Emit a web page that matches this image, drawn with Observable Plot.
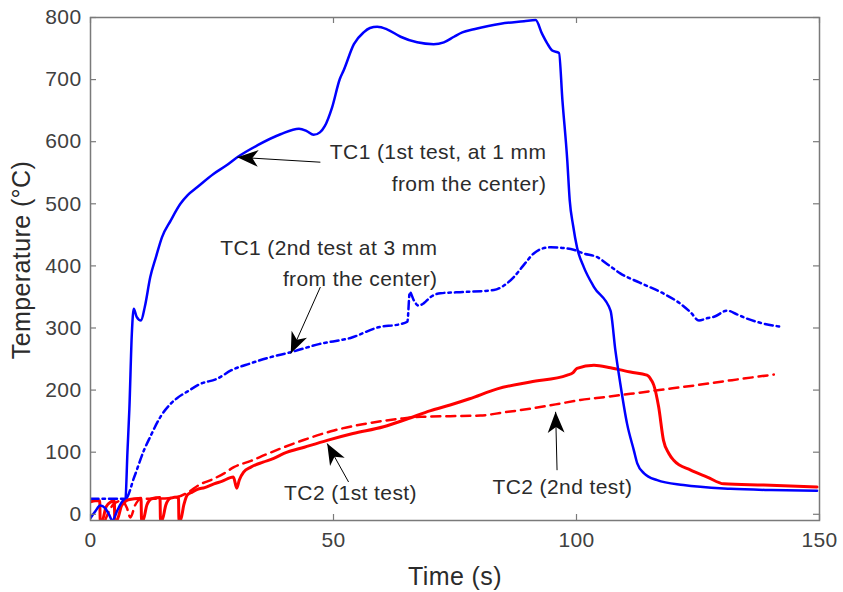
<!DOCTYPE html>
<html>
<head>
<meta charset="utf-8">
<script src="https://cdn.jsdelivr.net/npm/d3@7"></script>
<script src="https://cdn.jsdelivr.net/npm/@observablehq/plot@0.6"></script>
<style>
  html, body { margin: 0; padding: 0; background: #fff; }
  svg text { letter-spacing: 0.4px; }
</style>
</head>
<body>
<div id="chart"></div>
<script>
// ---- tick labels ----
const xTicks = [0, 50, 100, 150];
const yTicks = [0, 100, 200, 300, 400, 500, 600, 700, 800];

// ---- TC1, 1st test (at 1 mm from the center) ----
const tc1aTime = [0, 1, 2, 3, 3.8, 4.5, 5.5, 6.3, 6.9, 7.2, 7.6, 8.0, 8.5, 8.9, 9.5, 10.4, 11.2, 12.3, 13.5, 14.7, 16.5, 18.5, 20, 22, 25.3, 28, 30.2, 34.3, 39.1, 42.9, 44.5, 45.9, 47.2, 48.2, 49.7, 51.3, 52.1, 54.2, 56.2, 57.5, 59, 61, 63.8, 67.2, 70.6, 72.7, 74.8, 76.5, 78.9, 84.4, 89.2, 91.6, 92.9, 94, 95, 96.4, 97.1, 98.1, 98.6, 99.3, 100.1, 101.5, 103.6, 107, 108, 109, 110.4, 111.8, 112.5, 113.9, 116.6, 122, 131.7, 140, 149.5];
const tc1aTemp = [-6, 5, 14, 10, 0, -10, 6, 18, 24, 26, 100, 170, 290, 331, 318, 312, 335, 382, 415, 446, 473, 500, 514, 527, 548, 562, 575, 594, 612, 621, 617, 611, 615, 625, 655, 701, 715, 757, 776, 783, 785, 781, 769, 760, 757, 760, 769, 776, 781, 790, 794, 796, 774, 758, 747, 743, 667, 570, 506, 465, 430, 398, 366, 328, 264, 211, 146, 103, 82, 66, 55, 47, 41, 39, 38];

// ---- TC1, 2nd test (at 3 mm from the center) ----
const tc1bTime = [0, 3, 6, 7.2, 9, 11, 12.3, 14.4, 16.5, 17.8, 20, 22.6, 26, 29, 32.9, 37, 41.2, 47, 53.5, 59.7, 63, 65.2, 65.7, 66.5, 67.5, 68.6, 70, 72, 77, 83, 85, 87.1, 89, 91.2, 93, 94.7, 97, 99.4, 101.5, 104.3, 106.5, 109, 113, 118, 121.4, 123.5, 125.2, 127, 128.3, 131, 133, 135.1, 138, 142];
const tc1bTemp = [25, 25, 25, 25, 60, 103, 125, 157, 178, 187, 198, 210, 218, 232, 243, 253, 261, 274, 284, 302, 305, 310, 358, 345, 336, 340, 350, 356, 358, 361, 368, 382, 400, 420, 428, 430, 429, 426, 420, 414, 402, 388, 373, 355, 339, 325, 312, 316, 318, 328, 322, 315, 308, 302];

// ---- TC2, 1st test ----
const tc2aTime = [0, 1, 1.9, 2.0, 2.4, 3.2, 4.2, 4.9, 5.0, 5.4, 6.4, 7.6, 9, 10.4, 10.5, 10.8, 11.6, 12.6, 14.3, 14.4, 14.7, 15.5, 16.5, 18.1, 18.2, 18.5, 19.2, 19.9, 21, 22, 23.5, 25.4, 27, 29.4, 30.1, 30.6, 31.5, 33, 35.5, 37.7, 39.8, 44, 48.7, 54, 60.3, 65, 70, 74, 78, 83.7, 90.5, 98.1, 99.3, 100.1, 103.6, 107, 111.1, 114.5, 115.4, 115.9, 116.9, 117.9, 119, 120, 123.5, 126.9, 130.3, 138.5, 149.5];
const tc2aTemp = [20, 22, 22, -10, -10, 12, 20, 22, -10, -10, 14, 23, 25, 26, -10, -10, 15, 25, 27, -10, -10, 15, 26, 28, -10, -10, 15, 31, 36, 40, 43, 49, 53, 60, 42, 55, 68, 76, 84, 90, 98, 108, 119, 130, 141, 153, 167, 176, 186, 202, 213, 224, 228, 235, 240, 236, 229, 224, 216, 208, 173, 119, 98, 87, 71, 60, 49, 47, 44];

// ---- TC2, 2nd test ----
const tc2bTime = [3, 4, 5, 6.5, 7.5, 8.2, 9.2, 10.5, 13, 16, 18, 20, 22.5, 25, 27.5, 29.5, 33, 36, 39.8, 44, 50.1, 56, 63.8, 68, 74, 80.2, 85, 90.5, 95.7, 100.8, 106, 111.1, 118, 124.8, 132, 140.6];
const tc2bTemp = [-10, 8, 18, 22, 10, -5, 15, 25, 25, 26, 28, 35, 48, 56, 66, 76, 86, 96, 108, 120, 135, 145, 154, 157, 158, 159, 164, 170, 177, 184, 189, 194, 201, 208, 216, 225];

// ---- annotations (data coordinates) ----
const annoRightText = ["TC1 (1st test, at 1 mm\nfrom the center)", "TC1 (2nd test at 3 mm\nfrom the center)"];
const annoRightX = [93.8, 71.4];
const annoRightY = [563, 409];
const annoMidText = ["TC2 (1st test)", "TC2 (2nd test)"];
const annoMidX = [53.5, 97.1];
const annoMidY = [34, 43];
const arrowTailX = [47.3, 47.3, 53.1, 96.0];
const arrowTailY = [567, 366, 52, 71];
const arrowTipX = [30.2, 41.2, 48.7, 95.7];
const arrowTipY = [575, 259, 114, 165];

// ---- layout ----
const W = 843, H = 592;
const mL = 90, mR = 24, mT = 17, mB = 72;
const xDomain = [0, 150], yDomain = [-10, 800];
const pw = W - mL - mR, ph = H - mT - mB;
const kx = pw / (xDomain[1] - xDomain[0]);
const ky = ph / (yDomain[1] - yDomain[0]);

const rows = (t, v) => t.map((x, i) => ({t: x, v: v[i]}));
const arrows = arrowTailX.map((x, i) => ({x1: x, y1: arrowTailY[i], x2: arrowTipX[i], y2: arrowTipY[i]}));
const annoRight = annoRightText.map((s, i) => ({s, x: annoRightX[i], y: annoRightY[i]}));
const annoMid = annoMidText.map((s, i) => ({s, x: annoMidX[i], y: annoMidY[i]}));

// filled arrowhead: tip at the origin, body extending along +y (towards the tail)
const headShape = {
  draw(ctx, l) {
    const w = l * 0.4;
    ctx.moveTo(0, 0);
    ctx.lineTo(w, l);
    ctx.lineTo(0, l * 0.72);
    ctx.lineTo(-w, l);
    ctx.closePath();
  }
};
// screen angle (deg, clockwise from north) of the tail -> tip direction
const angle = (d) => {
  const dxp = (d.x2 - d.x1) * kx;
  const dyp = -(d.y2 - d.y1) * ky;
  return Math.atan2(dxp, -dyp) * 180 / Math.PI;
};

const frameGray = "#7a7a7a";
const textColor = "#2b2b2b";
const tickLen = 6;

const chart = Plot.plot({
  width: W, height: H,
  marginLeft: mL, marginRight: mR, marginTop: mT, marginBottom: mB,
  x: {domain: xDomain},
  y: {domain: yDomain},
  style: {fontFamily: "'Liberation Sans', Arial, Helvetica, sans-serif", background: "#fff", color: textColor},
  marks: [
    Plot.line(rows(tc2bTime, tc2bTemp), {x: "t", y: "v", curve: "monotone-x", stroke: "#ff0000", strokeWidth: 2.5, strokeDasharray: "9,6", clip: true}),
    Plot.line(rows(tc2aTime, tc2aTemp), {x: "t", y: "v", curve: "monotone-x", stroke: "#ff0000", strokeWidth: 3, clip: true}),
    Plot.line(rows(tc1bTime, tc1bTemp), {x: "t", y: "v", curve: "monotone-x", stroke: "#0000ff", strokeWidth: 2.5, strokeDasharray: "8,4,2.5,4", clip: true}),
    Plot.line(rows(tc1aTime, tc1aTemp), {x: "t", y: "v", curve: "monotone-x", stroke: "#0000ff", strokeWidth: 2.5, clip: true}),
    Plot.frame({stroke: frameGray, strokeWidth: 1.5}),
    Plot.tickX(xTicks, {x: d => d, insetTop: ph - tickLen, stroke: frameGray, strokeWidth: 1.2}),
    Plot.tickX(xTicks, {x: d => d, insetBottom: ph - tickLen, stroke: frameGray, strokeWidth: 1.2}),
    Plot.tickY(yTicks, {y: d => d, insetRight: pw - tickLen, stroke: frameGray, strokeWidth: 1.2}),
    Plot.tickY(yTicks, {y: d => d, insetLeft: pw - tickLen, stroke: frameGray, strokeWidth: 1.2}),
    Plot.axisX(xTicks, {tickSize: 0, tickPadding: 12, fontSize: 21, label: null, fill: "#404040"}),
    Plot.axisY(yTicks, {tickSize: 0, tickPadding: 9, fontSize: 21, label: null, fill: "#404040"}),
    Plot.text(["Time (s)"], {frameAnchor: "bottom", dy: 56, lineAnchor: "middle", textAnchor: "middle", fontSize: 25, text: d => d, fill: textColor}),
    Plot.text(["Temperature (°C)"], {frameAnchor: "left", dx: -69, dy: -9, rotate: -90, textAnchor: "middle", lineAnchor: "middle", fontSize: 25, text: d => d, fill: textColor}),
    Plot.link(arrows, {x1: "x1", y1: "y1", x2: "x2", y2: "y2", stroke: "#000", strokeWidth: 1}),
    Plot.vector(arrows, {x: "x2", y: "y2", rotate: d => angle(d), length: 21, anchor: "start", shape: headShape, fill: "#000", stroke: "none"}),
    Plot.text(annoRight, {x: "x", y: "y", text: "s", textAnchor: "end", lineAnchor: "middle", lineHeight: 1.52, fontSize: 21, fill: textColor}),
    Plot.text(annoMid, {x: "x", y: "y", text: "s", textAnchor: "middle", lineAnchor: "middle", fontSize: 21, fill: textColor})
  ]
});
document.getElementById("chart").appendChild(chart);
</script>
</body>
</html>
